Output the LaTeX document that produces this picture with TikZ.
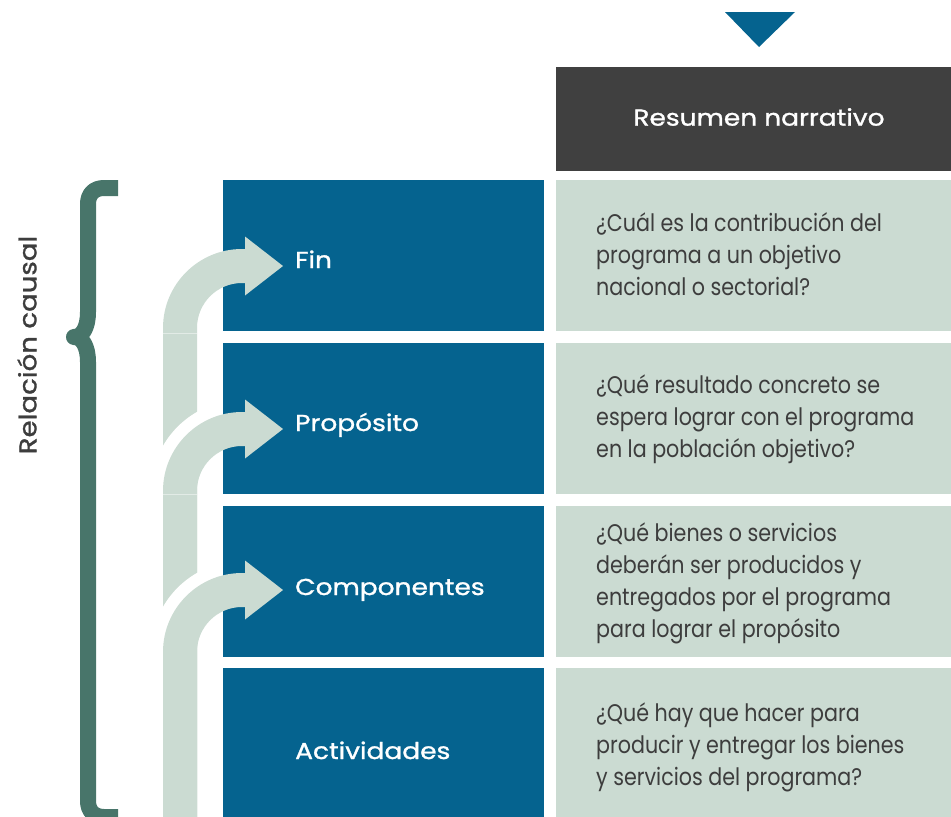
\documentclass[tikz,border=0pt]{standalone}
\usepackage{fontspec}
\setmainfont{Poppins}
\newfontfamily\bodyfont[FakeStretch=0.86]{Poppins}
\newfontfamily\headfont[FakeStretch=1.15,FakeBold=1.2]{Poppins}
\definecolor{boxblue}{HTML}{05638F}
\definecolor{pale}{HTML}{CBDBD2}
\definecolor{hdrgray}{HTML}{404040}
\definecolor{bracegreen}{HTML}{48756A}
\definecolor{txtgray}{HTML}{3D3D3D}
\tikzset{
  bluebox/.style={fill=boxblue, draw=none, inner sep=0pt, outer sep=0pt, minimum width=321pt, anchor=north west},
  palebox/.style={fill=pale, draw=none, inner sep=0pt, outer sep=0pt, minimum width=395pt, anchor=north west},
  lab/.style={text=white, inner sep=0pt, anchor=base west, font=\headfont\fontsize{23}{28}\selectfont},
  body/.style={text=txtgray, inner sep=0pt, anchor=west, align=left, font=\bodyfont\fontsize{24}{32}\selectfont},
  halo/.style={draw=white, line width=24pt},
}
\begin{document}
\begin{tikzpicture}[x=1pt,y=-1pt]
\useasboundingbox (0,0) rectangle (951,817);
\clip (0,0) rectangle (951,817);

% top triangle
\fill[boxblue] (725,12) -- (795,12) -- (759,47) -- cycle;

% header
\node[fill=hdrgray, inner sep=0pt, outer sep=0pt, minimum width=395pt, minimum height=104pt, anchor=north west] (hdr) at (556,67) {};
\node[text=white, inner sep=0pt, font=\headfont\fontsize{23}{28}\selectfont] (hdrtext) at (759,117) {Resumen narrativo};

% blue boxes
\node[bluebox, minimum height=151pt] (fin) at (223,180) {};
\node[bluebox, minimum height=151pt] (prop) at (223,343) {};
\node[bluebox, minimum height=151pt] (comp) at (223,506) {};
\node[bluebox, minimum height=149pt] (act) at (223,668) {};

% pale boxes
\node[palebox, minimum height=151pt] (q1) at (556,180) {};
\node[palebox, minimum height=151pt] (q2) at (556,343) {};
\node[palebox, minimum height=151pt] (q3) at (556,506) {};
\node[palebox, minimum height=149pt] (q4) at (556,668) {};

% arrows
\foreach \cy/\hl in {328/0, 491/1, 652/1}{
  \ifnum\hl=1
    \begin{scope}
      \clip (140,\cy-120) rectangle (218,\cy+5);
      \draw[halo] (163,\cy) .. controls (163,\cy-43.6) and (198.4,\cy-79) .. (242,\cy-79);
    \end{scope}
  \fi
  \fill[pale] (163,830) -- (163,\cy) .. controls (163,\cy-43.6) and (198.4,\cy-79) .. (242,\cy-79)
    -- (245,\cy-79) -- (245,\cy-91.5) -- (283,\cy-62) -- (245,\cy-32.5) -- (245,\cy-45) -- (242,\cy-45)
    .. controls (217.1,\cy-45) and (197,\cy-24.9) .. (197,\cy) -- (197,830) -- cycle;
}
\draw[white, opacity=0.45, line width=0.8pt] (163,333) -- (197,333);
\draw[white, opacity=0.45, line width=0.8pt] (163,494) -- (197,494);

% labels in blue boxes
\node[lab] (finlab) at (295,268) {Fin};
\node[lab] (proplab) at (295,431) {Propósito};
\node[lab] (complab) at (295,595) {Componentes};
\node[lab] (actlab) at (295,759) {Actividades};

% questions
\node[body] (q1text) at (596,254) {¿Cuál es la contribución del\\programa a un objetivo\\nacional o sectorial?};
\node[body] (q2text) at (596,419) {¿Qué resultado concreto se\\espera lograr con el programa\\en la población objetivo?};
\node[body] (q3text) at (596,583) {¿Qué bienes o servicios\\deberán ser producidos y\\entregados por el programa\\para lograr el propósito};
\node[body] (q4text) at (596,747) {¿Qué hay que hacer para\\producir y entregar los bienes\\y servicios del programa?};

% brace
\draw[bracegreen, line width=16pt, line join=round] (118,188) -- (104,188) .. controls (94,188) and (88,194) .. (88,204)
  -- (88,312) .. controls (88,328) and (82,337) .. (74,337) .. controls (82,337) and (88,346) .. (88,362)
  -- (88,801) .. controls (88,811) and (94,817) .. (104,817) -- (118,817);

\node[rotate=90, text=txtgray, inner sep=0pt, font=\headfont\fontsize{24}{28}\selectfont] (rel) at (27,345) {Relación causal};
\end{tikzpicture}
\end{document}
